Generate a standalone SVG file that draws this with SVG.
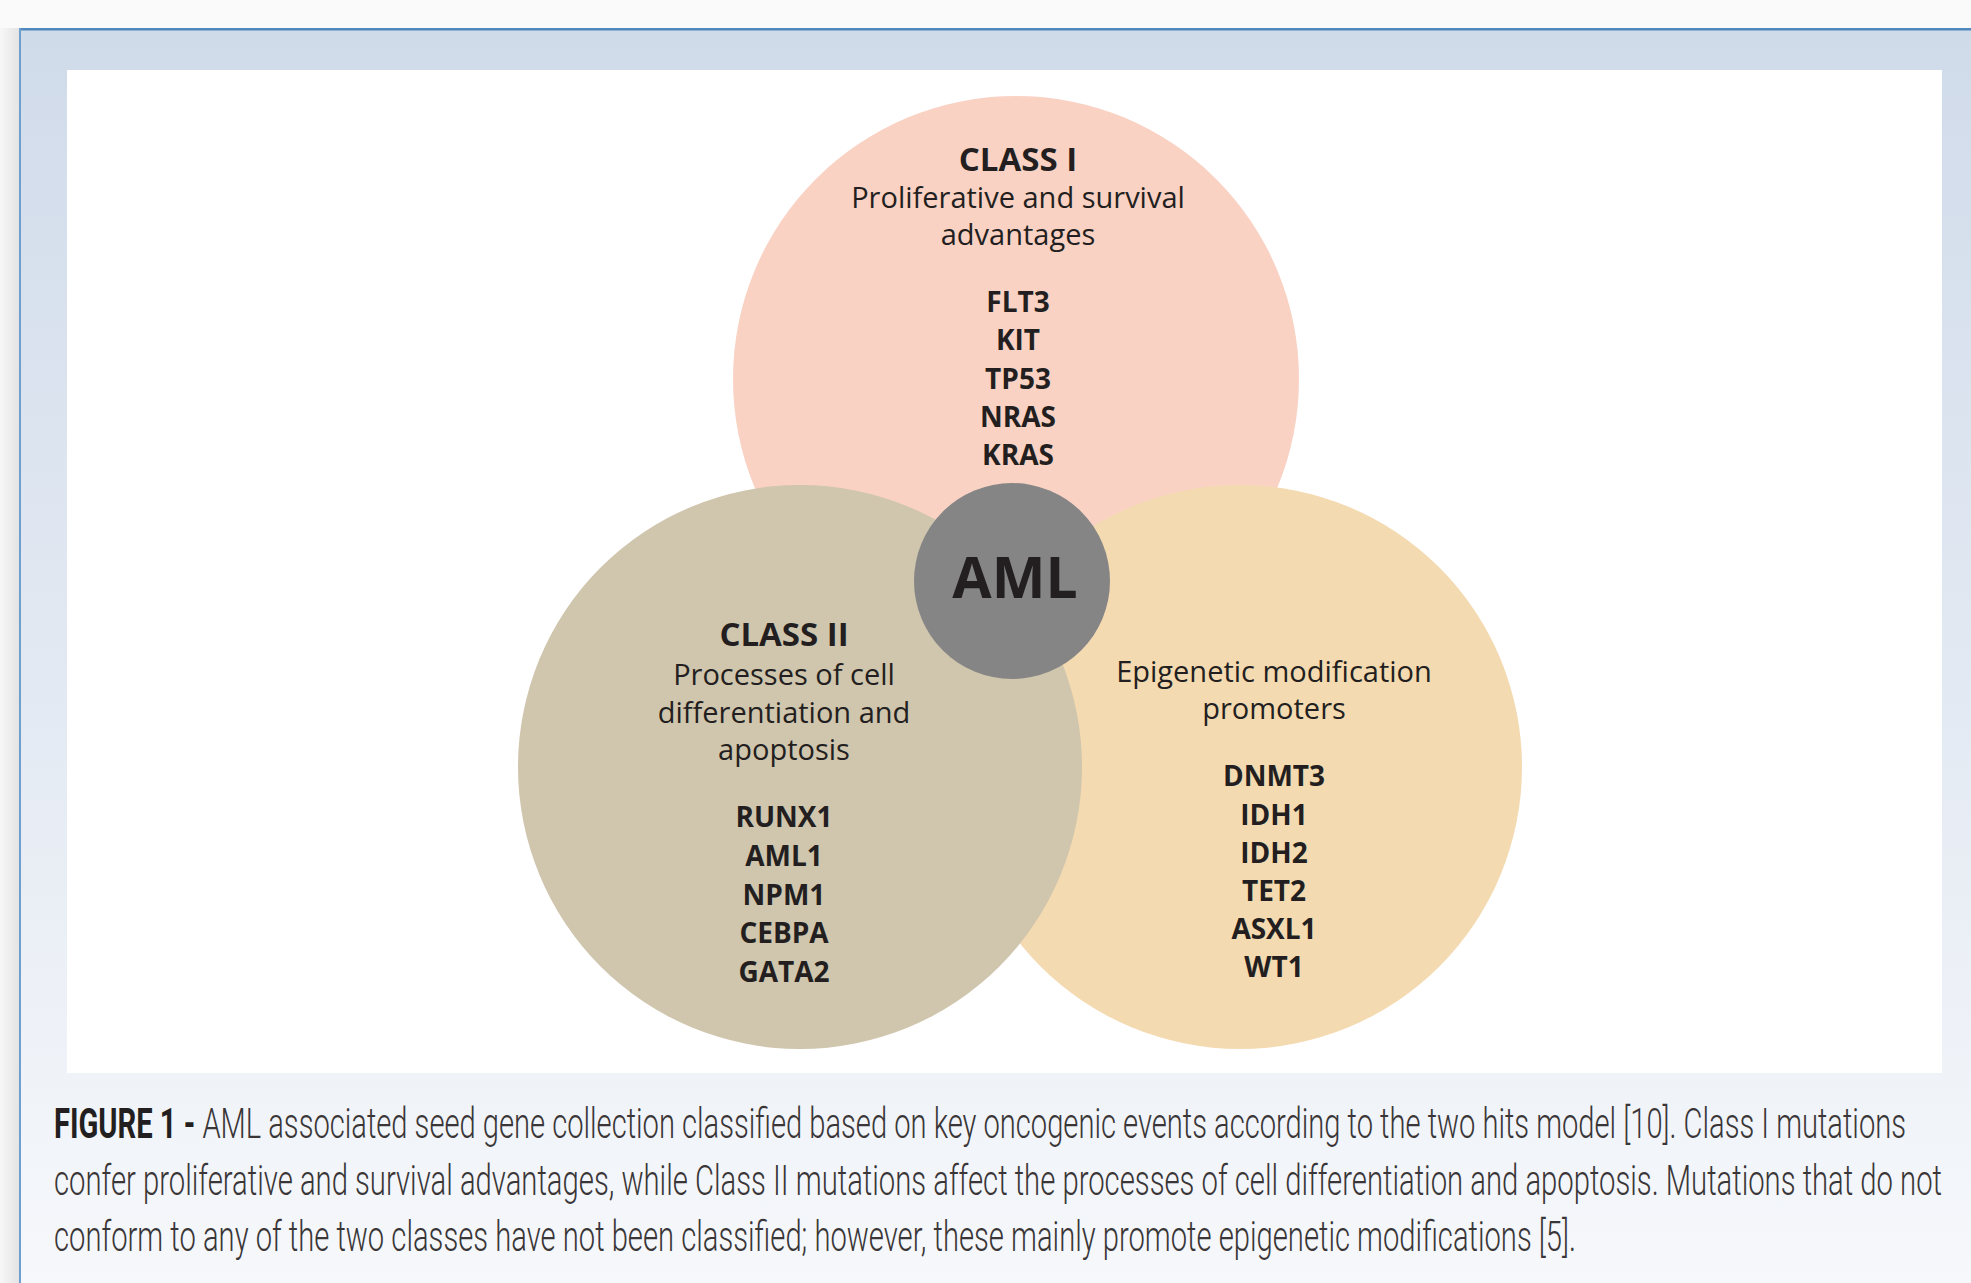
<svg xmlns="http://www.w3.org/2000/svg" width="1971" height="1283" viewBox="0 0 1971 1283">
  <defs>
    <linearGradient id="panelGrad" x1="0" y1="0" x2="0" y2="1">
      <stop offset="0" stop-color="#d0dbea"/>
      <stop offset="0.55" stop-color="#e4eaf3"/>
      <stop offset="1" stop-color="#f6f8fb"/>
    </linearGradient>
    <linearGradient id="shadowGrad" x1="0" y1="0" x2="1" y2="0">
      <stop offset="0" stop-color="#f7f7f7"/>
      <stop offset="1" stop-color="#e4e4e4"/>
    </linearGradient>
    <style>
      .title { font-family: "Open Sans", "Noto Sans", "Liberation Sans", sans-serif; font-weight: 700; font-size: 33px; fill: #231f20; text-anchor: middle; }
      .desc { font-family: "Open Sans", "Noto Sans", "Liberation Sans", sans-serif; font-weight: 400; font-size: 29px; fill: #231f20; text-anchor: middle; }
      .gene { font-family: "Open Sans", "Noto Sans", "Liberation Sans", sans-serif; font-weight: 700; font-size: 28px; fill: #231f20; text-anchor: middle; }
      .aml { font-family: "Open Sans", "Noto Sans", "Liberation Sans", sans-serif; font-weight: 700; font-size: 57px; fill: #231f20; text-anchor: middle; }
      .cap { font-family: Roboto, "Liberation Sans Narrow", "DejaVu Sans Condensed", sans-serif; font-weight: 300; font-size: 43px; fill: #3a3637; }
      .capb { font-weight: 700; fill: #231f20; }
    </style>
  </defs>

  <!-- page background -->
  <rect x="0" y="0" width="1971" height="1283" fill="#fafafa"/>
  <rect x="0" y="28" width="19" height="1255" fill="url(#shadowGrad)"/>

  <!-- panel -->
  <rect x="19" y="28" width="1952" height="1255" fill="url(#panelGrad)"/>
  <line x1="19" y1="29.2" x2="1971" y2="29.2" stroke="#4f87bf" stroke-width="2.5"/>
  <line x1="20" y1="28" x2="20" y2="1283" stroke="#6f9fcf" stroke-width="2"/>
  <rect x="67" y="70" width="1875" height="1003" fill="#ffffff"/>

  <!-- nodes -->
  <g id="class1">
    <circle cx="1016" cy="379" r="283" fill="#f9d2c4"/>
  </g>
  <g id="epigenetic">
    <circle cx="1240" cy="767" r="282" fill="#f4dab1"/>
  </g>
  <g id="class2">
    <circle cx="800" cy="767" r="282" fill="#d0c5ad"/>
  </g>
  <g id="aml">
    <circle cx="1012" cy="581" r="98" fill="#858585"/>
    <text class="aml" x="1015" y="598">AML</text>
  </g>

  <g id="class1-text">
    <text class="title" x="1018" y="171">CLASS I</text>
    <text class="desc" x="1018" y="208">Proliferative and survival</text>
    <text class="desc" x="1018" y="245">advantages</text>
    <text class="gene" x="1018" y="312">FLT3</text>
    <text class="gene" x="1018" y="350">KIT</text>
    <text class="gene" x="1018" y="389">TP53</text>
    <text class="gene" x="1018" y="427">NRAS</text>
    <text class="gene" x="1018" y="465">KRAS</text>
  </g>

  <g id="class2-text">
    <text class="title" x="784" y="646">CLASS II</text>
    <text class="desc" x="784" y="685">Processes of cell</text>
    <text class="desc" x="784" y="723">differentiation and</text>
    <text class="desc" x="784" y="760">apoptosis</text>
    <text class="gene" x="784" y="827">RUNX1</text>
    <text class="gene" x="784" y="866">AML1</text>
    <text class="gene" x="784" y="905">NPM1</text>
    <text class="gene" x="784" y="943">CEBPA</text>
    <text class="gene" x="784" y="982">GATA2</text>
  </g>

  <g id="epigenetic-text">
    <text class="desc" x="1274" y="682">Epigenetic modification</text>
    <text class="desc" x="1274" y="719">promoters</text>
    <text class="gene" x="1274" y="786">DNMT3</text>
    <text class="gene" x="1274" y="825">IDH1</text>
    <text class="gene" x="1274" y="863">IDH2</text>
    <text class="gene" x="1274" y="901">TET2</text>
    <text class="gene" x="1274" y="939">ASXL1</text>
    <text class="gene" x="1274" y="977">WT1</text>
  </g>

  <g id="connectors"></g>

  <!-- caption -->
  <g id="caption">
    <text class="cap" x="54" y="1138" textLength="1852" lengthAdjust="spacingAndGlyphs"><tspan class="capb">FIGURE 1 -</tspan> AML associated seed gene collection classified based on key oncogenic events according to the two hits model [10]. Class I mutations</text>
    <text class="cap" x="54" y="1195" textLength="1888" lengthAdjust="spacingAndGlyphs">confer proliferative and survival advantages, while Class II mutations affect the processes of cell differentiation and apoptosis. Mutations that do not</text>
    <text class="cap" x="54" y="1251" textLength="1522" lengthAdjust="spacingAndGlyphs">conform to any of the two classes have not been classified; however, these mainly promote epigenetic modifications [5].</text>
  </g>
</svg>
